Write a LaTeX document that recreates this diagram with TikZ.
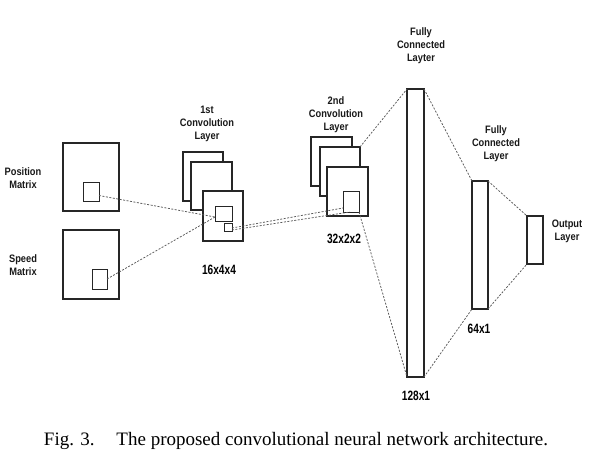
\documentclass[tikz,border=0pt]{standalone}
\usepackage{fontspec}
\setmainfont{Liberation Serif}
\newfontfamily\lblfont[FakeStretch=0.86]{Liberation Sans}
\newfontfamily\dimfont[FakeStretch=0.75]{Liberation Sans}
\begin{document}
\begin{tikzpicture}[x=1pt,y=-1pt,
  bigbox/.style={draw=black!85, line width=1.4pt, fill=white, anchor=north west, inner sep=0pt, outer sep=0pt},
  smallbox/.style={draw=black!85, line width=0.9pt, fill=white, anchor=north west, inner sep=0pt, outer sep=0pt},
  conn/.style={draw=black!65, line width=0.75pt, dash pattern=on 2pt off 1.5pt},
  lbl/.style={font=\lblfont\bfseries\fontsize{10.8}{13}\selectfont, align=center, text=black!90, inner sep=0pt},
  dimlbl/.style={font=\dimfont\bfseries\fontsize{13.5}{15}\selectfont, text=black, inner sep=0pt},
  captiontext/.style={font=\fontsize{19}{21}\selectfont, inner sep=0pt}]
\useasboundingbox[fill=white] (0,0) rectangle (596,457);

% input matrices
\node[bigbox, minimum width=56pt, minimum height=68pt] (pm) at (63,143) {};
\node[smallbox, minimum width=16pt, minimum height=19pt] (ps) at (83,182) {};
\node[bigbox, minimum width=56pt, minimum height=69pt] (sm) at (63,230) {};
\node[smallbox, minimum width=15pt, minimum height=20pt] (ss) at (92,269) {};
\node[lbl] (pml) at (23,178) {Position\\Matrix};
\node[lbl] (sml) at (23,265.5) {Speed\\Matrix};

% 1st convolution layer
\node[bigbox, minimum width=40pt, minimum height=49pt] (c1a) at (183,152) {};
\node[bigbox, minimum width=41pt, minimum height=48pt] (c1b) at (191,162) {};
\node[bigbox, minimum width=40pt, minimum height=50pt] (c1c) at (203,191) {};
\node[smallbox, minimum width=17pt, minimum height=15pt] (c1s) at (215,206) {};
\node[smallbox, minimum width=8pt, minimum height=8pt] (c1t) at (224,223) {};
\node[lbl] (c1l) at (207,124) {1st\\Convolution\\Layer};
\node[dimlbl] (c1d) at (219,270) {16x4x4};

% 2nd convolution layer
\node[bigbox, minimum width=41pt, minimum height=49pt] (c2a) at (311,137) {};
\node[bigbox, minimum width=40pt, minimum height=49pt] (c2b) at (320,147) {};
\node[bigbox, minimum width=41pt, minimum height=49pt] (c2c) at (327,167) {};
\node[smallbox, minimum width=16pt, minimum height=21pt] (c2s) at (343,191) {};
\node[lbl] (c2l) at (336,114.5) {2nd\\Convolution\\Layer};
\node[dimlbl] (c2d) at (344,239) {32x2x2};

% fully connected layers and output
\node[bigbox, minimum width=17pt, minimum height=288pt] (fc1) at (407,89) {};
\node[lbl] (fc1l) at (421,46) {Fully\\Connected\\Layter};
\node[dimlbl] (fc1d) at (416,396) {128x1};
\node[bigbox, minimum width=16pt, minimum height=128pt] (fc2) at (472,181) {};
\node[lbl] (fc2l) at (496,143.5) {Fully\\Connected\\Layer};
\node[dimlbl] (fc2d) at (479,329) {64x1};
\node[bigbox, minimum width=16pt, minimum height=48pt] (out) at (527,216) {};
\node[lbl] (outl) at (567,231.5) {Output\\Layer};

% dashed connectors
\draw[conn] ([yshift=-4pt]ps.east) -- ([yshift=4pt]c1s.south west);
\draw[conn] (ss.east) -- ([yshift=4pt]c1s.south west);
\draw[conn] ([yshift=-1pt]c1t.east) -- ([yshift=4pt]c2s.south west);
\draw[conn] ([yshift=1pt]c1t.south east) -- ([xshift=7pt]c2s.south west);
\draw[conn] (c2b.north east) -- (fc1.north west);
\draw[conn] (c2s.south east) -- (fc1.south west);
\draw[conn] (fc1.north east) -- (fc2.north west);
\draw[conn] (fc1.south east) -- (fc2.south west);
\draw[conn] (fc2.north east) -- (out.north west);
\draw[conn] (fc2.south east) -- (out.south west);

% caption
\node[captiontext] (caption) at (296,441) {Fig. 3.\hspace{1.15em}The proposed convolutional neural network architecture.};
\end{tikzpicture}
\end{document}
